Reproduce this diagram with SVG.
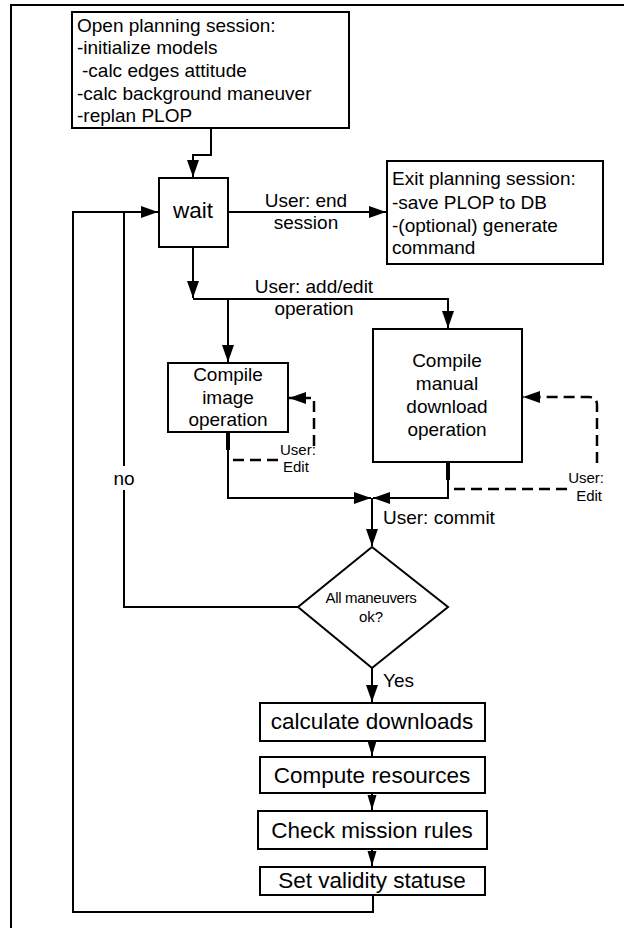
<svg xmlns="http://www.w3.org/2000/svg" width="624" height="928" viewBox="0 0 624 928">
<style>
.box{fill:#fff;stroke:#000;stroke-width:2}
.ln{fill:none;stroke:#000;stroke-width:2}
.dash{fill:none;stroke:#000;stroke-width:2.5;stroke-dasharray:11,6}
text{font-family:"Liberation Sans",Arial,sans-serif;fill:#000}
.t19{font-size:19px}
.t22{font-size:22.5px}
.t15{font-size:15px}
.c{text-anchor:middle}
</style>
<defs>
<marker id="ah" markerUnits="userSpaceOnUse" markerWidth="18" markerHeight="12" refX="17" refY="6" orient="auto">
<path d="M0,0 L17,6 L0,12 z" fill="#000"/>
</marker>
<marker id="as" markerUnits="userSpaceOnUse" markerWidth="15" markerHeight="10" refX="15" refY="5" orient="auto">
<path d="M0,0.5 L15,5 L0,9.5 z" fill="#000"/>
</marker>
</defs>
<path d="M624,5 H11 V928" fill="none" stroke="#000" stroke-width="2"/>
<g id="connectors">
<path class="ln" d="M211,128 V155 H193 V177" marker-end="url(#ah)"/>
<path class="ln" d="M228,212 H386" marker-end="url(#ah)"/>
<path class="ln" d="M193,247 V298" marker-end="url(#ah)"/>
<path class="ln" d="M193,299 H448 V328" marker-end="url(#ah)"/>
<path class="ln" d="M228,299 V362" marker-end="url(#ah)"/>
<path class="ln" d="M228,432 V498 H371" marker-end="url(#ah)"/>
<path d="M228,432 V450" stroke="#000" stroke-width="4"/>
<path class="ln" d="M448,462 V498 H373" marker-end="url(#ah)"/>
<path d="M448,462 V480" stroke="#000" stroke-width="4"/>
<path class="ln" d="M372,498 V546" marker-end="url(#ah)"/>
<path class="ln" d="M298,607 H124 V212 H158" marker-end="url(#ah)"/>
<path class="ln" d="M373,895 V912 H73 V212 H124"/>
<path class="ln" d="M372,668 V702" marker-end="url(#ah)"/>
<path class="ln" d="M372,741 V756" marker-end="url(#as)"/>
<path class="ln" d="M372,793 V810" marker-end="url(#as)"/>
<path class="ln" d="M372,849 V866" marker-end="url(#as)"/>
<path class="dash" d="M233,460 H279"/>
<path class="dash" d="M314,446 V398 H289" marker-end="url(#ah)"/>
<path class="dash" d="M454,489 H568"/>
<path class="dash" d="M597,463 V405 Q597,397 589,397 H523" marker-end="url(#ah)"/>
<rect x="112" y="466" width="25" height="24" fill="#fff"/>
<text class="t19 c" x="124" y="485">no</text>
<text class="t19 c" x="306" y="207">User: end</text>
<text class="t19 c" x="306" y="229">session</text>
<text class="t19 c" x="314" y="293">User: add/edit</text>
<text class="t19 c" x="314" y="315">operation</text>
<text class="t15" x="280" y="455">User:</text>
<text class="t15" x="283" y="472">Edit</text>
<text class="t15" x="604" y="483" text-anchor="end">User:</text>
<text class="t15" x="602" y="501" text-anchor="end">Edit</text>
<text class="t19" x="383" y="524">User: commit</text>
<text class="t19" x="383" y="687">Yes</text>
</g>
<g id="open">
<rect class="box" x="72" y="12" width="277" height="116"/>
<text class="t19" x="77" y="31.5">Open planning session:</text>
<text class="t19" x="77" y="54">-initialize models</text>
<text class="t19" x="82" y="77">-calc edges attitude</text>
<text class="t19" x="77" y="99.5">-calc background maneuver</text>
<text class="t19" x="77" y="122">-replan PLOP</text>
</g>
<g id="wait">
<rect class="box" x="159" y="178" width="69" height="69"/>
<text class="t22 c" x="193" y="218">wait</text>
</g>
<g id="exit">
<rect class="box" x="387" y="161" width="216" height="103"/>
<text class="t19" x="392" y="185">Exit planning session:</text>
<text class="t19" x="392" y="209">-save PLOP to DB</text>
<text class="t19" x="392" y="232">-(optional) generate</text>
<text class="t19" x="392" y="254">command</text>
</g>
<g id="image">
<rect class="box" x="168" y="363" width="120" height="69"/>
<text class="t19 c" x="228" y="381">Compile</text>
<text class="t19 c" x="228" y="403.5">image</text>
<text class="t19 c" x="228" y="426">operation</text>
</g>
<g id="manual">
<rect class="box" x="373" y="329" width="149" height="133"/>
<text class="t19 c" x="447" y="367">Compile</text>
<text class="t19 c" x="447" y="390">manual</text>
<text class="t19 c" x="447" y="413">download</text>
<text class="t19 c" x="447" y="436">operation</text>
</g>
<g id="decision">
<polygon class="box" points="372,547 448,607 372,668 298,607"/>
<text class="t15 c" x="371" y="603" letter-spacing="-0.3">All maneuvers</text>
<text class="t15 c" x="371" y="622">ok?</text>
</g>
<g id="downloads">
<rect class="box" x="260" y="703" width="225" height="38"/>
<text class="t22 c" x="372" y="729">calculate downloads</text>
</g>
<g id="resources">
<rect class="box" x="260" y="757" width="225" height="36"/>
<text class="t22 c" x="372" y="783">Compute resources</text>
</g>
<g id="rules">
<rect class="box" x="258" y="811" width="229" height="38"/>
<text class="t22 c" x="372" y="838">Check mission rules</text>
</g>
<g id="validity">
<rect class="box" x="260" y="867" width="225" height="28"/>
<text class="t22 c" x="372" y="888">Set validity statuse</text>
</g>
</svg>
